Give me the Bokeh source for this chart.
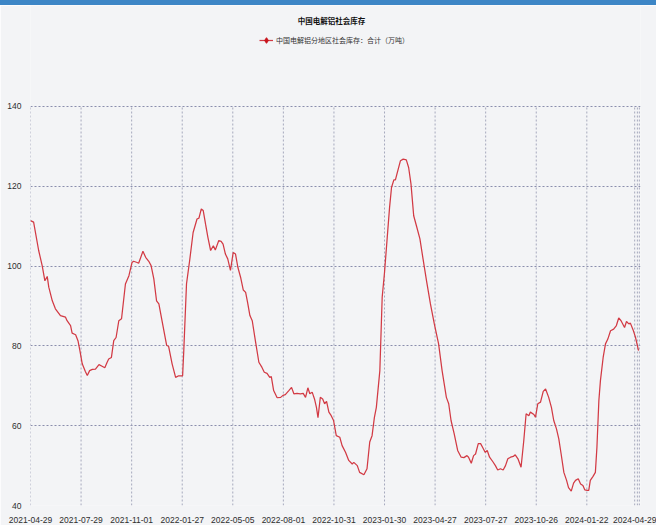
from bokeh.plotting import figure
from bokeh.layouts import column
from bokeh.models import Range1d, FixedTicker, Label, Legend, LegendItem, ColumnDataSource, Div
from bokeh.embed import file_html
from bokeh.resources import INLINE

# ---- data ----
title_text = "中国电解铝社会库存"
series_name = "中国电解铝分地区社会库存：合计（万吨）"

tick_labels = ["2021-04-29", "2021-07-29", "2021-11-01", "2022-01-27", "2022-05-05",
               "2022-08-01", "2022-10-31", "2023-01-30", "2023-04-27", "2023-07-27",
               "2023-10-26", "2024-01-22", "2024-04-29"]
tick_weeks = [0, 13, 26, 39, 52, 65, 78, 91, 104, 117, 130, 143, 156]
extra_grid_weeks = [155.3, 156.5]
y_ticks = [40, 60, 80, 100, 120, 140]

# weeks since 2021-04-29 (position on the category axis)
weeks = [0.0, 0.8, 2.1, 3.0, 3.7, 4.3, 4.7, 5.6, 6.4, 7.7, 9.0, 9.4, 10.3, 10.7, 11.6, 12.2,
         12.7, 13.3, 14.1, 14.6, 15.2, 15.9, 16.7, 17.6, 18.4, 19.1, 19.7, 20.1, 20.8, 21.4,
         22.0, 22.7, 23.4, 24.4, 25.3, 26.1, 26.5, 27.4, 27.8, 28.9, 29.6, 30.4, 31.0, 31.7,
         32.4, 33.0, 33.8, 35.0, 35.5, 36.4, 37.3, 38.1, 39.1, 39.4, 40.1, 40.9, 41.8, 42.8,
         43.3, 43.9, 44.4, 45.0, 45.6, 46.3, 47.0, 47.5, 48.4, 49.0, 49.5, 50.1, 50.7, 51.4,
         52.1, 52.7, 53.3, 54.0, 54.7, 55.3, 55.8, 56.4, 57.0, 57.8, 58.7, 59.5, 60.1, 60.8,
         61.5, 61.9, 62.5, 63.4, 64.3, 64.9, 65.5, 66.4, 67.1, 67.7, 68.5, 69.4, 70.1, 70.7,
         71.3, 71.8, 72.4, 73.0, 73.5, 73.9, 74.5, 75.1, 75.6, 76.1, 76.7, 77.3, 77.9, 78.6,
         79.5, 80.1, 81.0, 81.8, 82.7, 83.1, 84.0, 84.6, 85.7, 86.5, 87.2, 87.8, 88.4, 88.9,
         89.8, 90.4, 91.0, 91.7, 92.3, 92.8, 93.4, 93.8, 94.2, 95.1, 95.8, 96.6, 97.2, 97.8,
         98.5, 99.2, 100.1, 100.9, 101.8, 102.8, 103.8, 104.9, 105.8, 106.9, 107.5, 108.1,
         108.9, 109.8, 110.7, 111.4, 112.2, 112.6, 113.3, 113.9, 114.4, 115.1, 115.7, 116.2,
         116.9, 117.4, 118.0, 118.9, 119.5, 120.1, 120.8, 121.5, 122.1, 122.7, 123.4, 124.1,
         124.6, 125.3, 126.1, 126.8, 127.4, 128.1, 128.5, 129.4, 129.8, 130.4, 131.1, 131.8,
         132.4, 133.2, 133.9, 134.5, 135.2, 135.8, 136.4, 137.1, 137.8, 138.3, 139.0, 139.6,
         140.1, 140.8, 141.4, 142.0, 142.5, 143.1, 143.5, 143.9, 144.6, 145.2, 145.6, 146.1,
         146.5, 147.2, 147.8, 148.4, 149.1, 149.9, 150.6, 151.2, 151.8, 152.7, 153.2, 153.8,
         154.2, 154.9, 155.5, 155.9, 156.3]

inventory = [111.4, 111.0, 103.9, 100.1, 96.3, 97.4, 94.7, 91.3, 89.3, 87.6, 87.2, 86.3, 85.1,
             83.2, 82.8, 81.3, 78.8, 75.5, 73.6, 72.6, 73.8, 74.1, 74.2, 75.3, 74.9, 74.5, 75.9,
             76.7, 77.1, 81.3, 82.1, 86.3, 86.8, 95.5, 97.6, 100.9, 101.2, 100.9, 100.7, 103.7,
             102.2, 101.2, 100.1, 96.8, 91.3, 90.5, 86.3, 80.1, 79.9, 75.5, 72.1, 72.5, 72.5,
             78.8, 95.5, 101.3, 108.4, 111.8, 112.0, 114.3, 113.9, 110.5, 107.2, 103.9, 105.1,
             104.0, 106.4, 106.2, 105.5, 103.0, 101.8, 98.9, 103.4, 103.0, 99.7, 97.2, 94.0,
             93.4, 90.9, 87.6, 86.3, 81.3, 75.9, 74.6, 73.4, 73.1, 72.1, 72.3, 68.8, 67.0, 67.1,
             67.6, 67.8, 68.8, 69.6, 68.0, 68.1, 68.0, 68.1, 67.1, 69.5, 68.0, 68.4, 66.7, 64.6,
             62.0, 67.1, 66.7, 65.5, 66.1, 63.4, 62.5, 61.3, 57.5, 57.1, 55.0, 53.3, 51.3, 50.4,
             50.8, 50.0, 48.3, 47.7, 49.2, 55.9, 57.5, 62.1, 64.6, 73.8, 92.2, 98.4, 107.2,
             114.7, 119.7, 121.6, 121.6, 123.1, 126.4, 126.8, 126.6, 124.7, 120.6, 112.6, 110.1,
             106.8, 101.8, 96.3, 90.5, 85.5, 80.5, 73.8, 67.1, 65.5, 61.3, 58.0, 53.8, 52.1,
             52.0, 52.5, 52.1, 50.6, 52.5, 52.9, 55.5, 55.5, 54.6, 53.3, 53.8, 52.1, 50.9, 50.0,
             48.9, 49.2, 48.9, 50.0, 51.7, 52.1, 52.3, 52.7, 51.7, 49.6, 56.3, 63.0, 62.5, 63.4,
             62.8, 62.1, 65.5, 65.9, 68.6, 69.2, 67.1, 64.6, 61.3, 59.2, 56.7, 52.9, 48.3, 46.3,
             44.5, 43.6, 45.6, 46.3, 46.7, 45.4, 45.0, 43.9, 43.8, 43.8, 46.3, 47.3, 48.3, 54.6,
             66.3, 71.3, 77.1, 80.5, 81.7, 83.8, 84.2, 85.1, 87.0, 86.3, 84.6, 86.1, 85.5, 85.7,
             84.0, 82.2, 80.5, 78.8]

# ---- style ----
BG = "#f3f4f6"
BAR_BLUE = "#3d86c6"
LINE_RED = "#d23a44"
MARK_RED = "#c8141c"
HGRID = "#8a8ead"
VGRID = "#a6a9bd"
TICK_FONT = "Liberation Sans"
CJK_FONT = "Noto Sans CJK SC"

FIG_W, FIG_H = 656, 520
PLOT_LEFT, PLOT_RIGHT, PLOT_BOTTOM = 30, 16, 20
px_per_unit = 3.993
top_gap_px = 101          # space above the 140 line reserved for title and legend
y_top = max(y_ticks) + top_gap_px / px_per_unit

bar = Div(width=FIG_W, height=5, margin=0,
          styles={"background-color": BAR_BLUE})

p = figure(width=FIG_W, height=FIG_H, output_backend="svg", toolbar_location=None,
           x_range=Range1d(0, 156.8), y_range=Range1d(min(y_ticks), y_top),
           min_border_left=PLOT_LEFT, min_border_right=PLOT_RIGHT, min_border_top=0,
           min_border_bottom=PLOT_BOTTOM, margin=0)
p.background_fill_color = BG
p.border_fill_color = BG
p.outline_line_color = None

# vertical dashed grid, limited to the value range
grid_x = tick_weeks + extra_grid_weeks
p.segment(x0=grid_x, x1=grid_x, y0=[min(y_ticks)] * len(grid_x), y1=[max(y_ticks)] * len(grid_x),
          line_color=VGRID, line_dash="2 2", line_width=1)

src = ColumnDataSource(dict(x=weeks, y=inventory))
line_r = p.line("x", "y", source=src, line_color=LINE_RED, line_width=1.25)
# legend-only marker (no visible point on the chart)
mark_r = p.scatter(x=[float("nan")], y=[float("nan")], marker="diamond", size=9,
                   fill_color=MARK_RED, line_color=MARK_RED)

# axes
p.xaxis.ticker = FixedTicker(ticks=tick_weeks)
p.xaxis.major_label_overrides = {w: lab for w, lab in zip(tick_weeks, tick_labels)}
p.yaxis.ticker = FixedTicker(ticks=y_ticks)
for ax in (p.xaxis, p.yaxis):
    ax.axis_line_color = None
    ax.major_tick_line_color = None
    ax.minor_tick_line_color = None
    ax.major_label_text_font = TICK_FONT
    ax.major_label_text_font_size = "8.5px"
    ax.major_label_text_color = "#2e2e2e"
p.xaxis.major_label_standoff = 5
p.yaxis.major_label_standoff = 3

p.xgrid.grid_line_color = None
p.ygrid.ticker = FixedTicker(ticks=y_ticks)
p.ygrid.grid_line_color = HGRID
p.ygrid.grid_line_dash = "2 2"
p.ygrid.grid_line_width = 1

# title (frame-relative screen units)
p.add_layout(Label(x=301, y=485, x_units="screen", y_units="screen", text=title_text,
                   text_font=CJK_FONT, text_font_size="7.5px", text_font_style="bold",
                   text_color="#111111", text_align="center", text_baseline="middle"))

# legend
legend = Legend(items=[LegendItem(label=series_name, renderers=[line_r, mark_r])],
                location=(229, 457), orientation="horizontal",
                glyph_width=14, glyph_height=16, label_height=10, label_standoff=3,
                padding=0, margin=0, spacing=0,
                label_text_font=CJK_FONT, label_text_font_size="7px",
                label_text_color="#333333",
                background_fill_alpha=0, border_line_color=None)
p.add_layout(legend, "center")

layout = column(bar, p, spacing=0, margin=0)
open("out.html", "w").write(file_html(layout, INLINE))
